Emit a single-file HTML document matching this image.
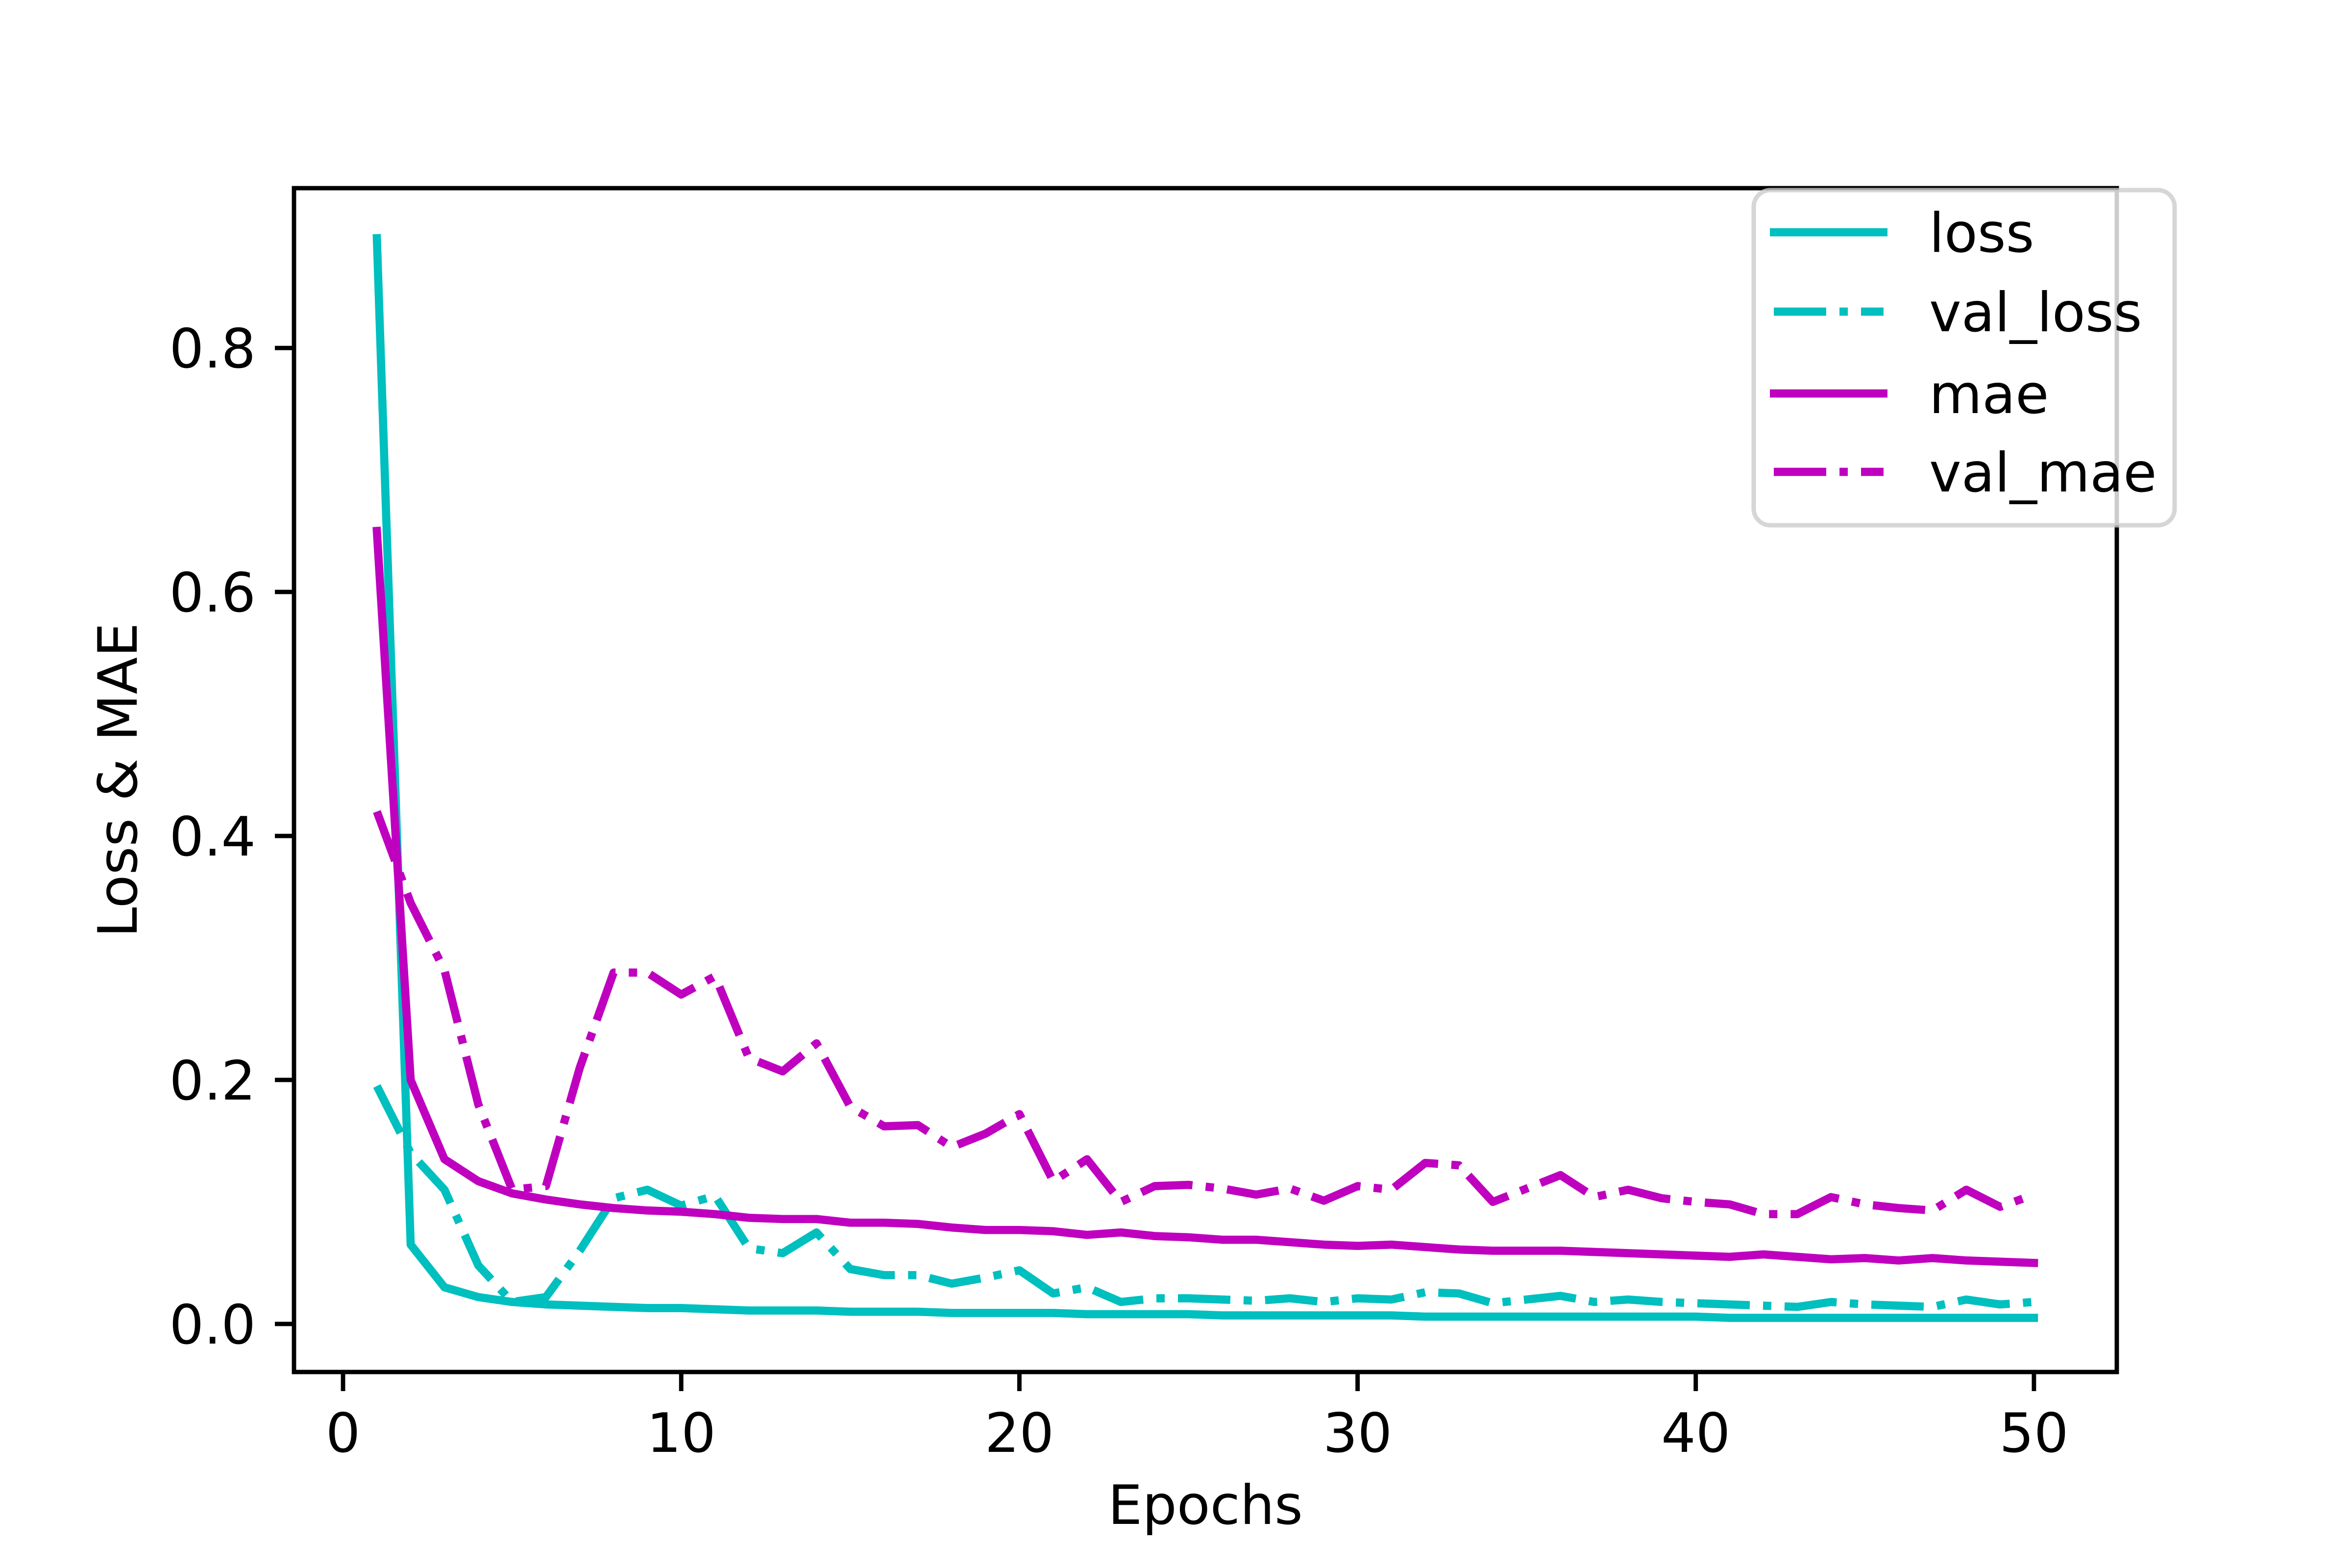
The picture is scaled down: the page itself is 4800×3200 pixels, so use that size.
<!DOCTYPE html>
<html><head><meta charset="utf-8"><style>
html,body{margin:0;padding:0;background:#fff}
svg{display:block}
text{font-family:"DejaVu Sans","Liberation Sans",sans-serif;fill:#000}
</style></head><body>
<svg id="chart" width="4800" height="3200" viewBox="0 0 4800 3200" xmlns="http://www.w3.org/2000/svg">
<rect width="4800" height="3200" fill="#fff"/>
<g id="series"></g>
<g id="axes"></g>
<g id="legend"></g>
</svg>
<script>
const epochs = Array.from({length:50},(_,i)=>i+1);
const lossVals = [0.89,0.065,0.03,0.022,0.018,0.016,0.015,0.014,0.013,0.013,0.012,0.011,0.011,0.011,0.010,0.010,0.010,0.009,0.009,0.009,0.009,0.008,0.008,0.008,0.008,0.007,0.007,0.007,0.007,0.007,0.007,0.006,0.006,0.006,0.006,0.006,0.006,0.006,0.006,0.006,0.005,0.005,0.005,0.005,0.005,0.005,0.005,0.005,0.005,0.005];
const valLossVals = [0.195,0.14,0.11,0.048,0.018,0.022,0.06,0.103,0.11,0.097,0.105,0.062,0.058,0.075,0.045,0.04,0.04,0.033,0.038,0.044,0.025,0.03,0.018,0.021,0.021,0.02,0.019,0.021,0.018,0.021,0.02,0.026,0.025,0.017,0.02,0.023,0.018,0.02,0.018,0.017,0.016,0.015,0.014,0.018,0.016,0.015,0.014,0.02,0.016,0.018];
const maeVals = [0.65,0.2,0.135,0.117,0.107,0.102,0.098,0.095,0.093,0.092,0.09,0.087,0.086,0.086,0.083,0.083,0.082,0.079,0.077,0.077,0.076,0.073,0.075,0.072,0.071,0.069,0.069,0.067,0.065,0.064,0.065,0.063,0.061,0.06,0.06,0.06,0.059,0.058,0.057,0.056,0.055,0.057,0.055,0.053,0.054,0.052,0.054,0.052,0.051,0.05];
const valMaeVals = [0.42,0.345,0.29,0.18,0.11,0.113,0.21,0.288,0.288,0.27,0.285,0.218,0.207,0.23,0.178,0.162,0.163,0.145,0.156,0.172,0.117,0.135,0.1,0.113,0.114,0.111,0.106,0.111,0.101,0.113,0.11,0.132,0.13,0.1,0.111,0.122,0.104,0.11,0.103,0.1,0.098,0.09,0.09,0.104,0.098,0.095,0.093,0.11,0.096,0.106];
const xTicks = [0,10,20,30,40,50];
const yTicks = [0.0,0.2,0.4,0.6,0.8];
const seriesNames = ["loss","val_loss","mae","val_mae"];

const NS="http://www.w3.org/2000/svg";
const L=600,R=4320,T=384,B=2800;
const xMin=-1.45,xMax=52.45,yMin=-0.0394,yMax=0.931;
const sx=v=>L+(v-xMin)/(xMax-xMin)*(R-L);
const sy=v=>B-(v-yMin)/(yMax-yMin)*(B-T);
function mk(tag,attrs,parent){const e=document.createElementNS(NS,tag);for(const k in attrs)e.setAttribute(k,attrs[k]);parent.appendChild(e);return e;}
const C="#00bfbf",M="#bf00bf",DASH="107,27,17,27";
const series=[
 {vals:lossVals,color:C,dash:null,name:"loss-line"},
 {vals:valLossVals,color:C,dash:DASH,name:"val-loss-line"},
 {vals:maeVals,color:M,dash:null,name:"mae-line"},
 {vals:valMaeVals,color:M,dash:DASH,name:"val-mae-line"}];
const sg=document.getElementById("series");
const clip=mk("clipPath",{id:"plotclip"},sg);mk("rect",{x:L,y:T,width:R-L,height:B-T},clip);
series.forEach(s=>{
  const pts=epochs.map((e,i)=>sx(e).toFixed(1)+","+sy(s.vals[i]).toFixed(1)).join(" ");
  const a={points:pts,fill:"none",stroke:s.color,"stroke-width":16.7,"stroke-linejoin":"round","stroke-linecap":s.dash?"butt":"square","clip-path":"url(#plotclip)"};
  if(s.dash)a["stroke-dasharray"]=s.dash;
  const p=mk("polyline",a,sg);
  
  
});
const ag=document.getElementById("axes");
const frame=mk("rect",{x:L,y:T,width:R-L,height:B-T,fill:"none",stroke:"#000","stroke-width":8.9},ag);


xTicks.forEach(t=>{
  const x=sx(t);
  const tk=mk("line",{x1:x,x2:x,y1:B,y2:B+39,stroke:"#000","stroke-width":8.9},ag);
  
  
  const tx=mk("text",{x:x,y:2963,"font-size":111,"text-anchor":"middle"},ag);tx.textContent=String(t);
  
  
});
yTicks.forEach(t=>{
  const y=sy(t);
  const tk=mk("line",{x1:L-39,x2:L,y1:y,y2:y,stroke:"#000","stroke-width":8.9},ag);
  
  
  const tx=mk("text",{x:522,y:y+40,"font-size":111,"text-anchor":"end"},ag);tx.textContent=t.toFixed(1);
  
  
});
const xl=mk("text",{x:(L+R)/2,y:3110,"font-size":111,"text-anchor":"middle"},ag);xl.textContent="Epochs";


const yl=mk("text",{x:0,y:0,"font-size":111,"text-anchor":"middle",transform:"translate(279,"+((T+B)/2)+") rotate(-90)"},ag);yl.textContent="Loss & MAE";


const lg=document.getElementById("legend");
const box=mk("rect",{x:3579,y:388,width:859,height:684,rx:34,ry:34,fill:"#fff","fill-opacity":0.8,stroke:"#cccccc","stroke-opacity":0.8,"stroke-width":9},lg);


const rowsY=[474,636,803,963];
series.forEach((s,i)=>{
  const a={x1:3612,x2:3852,y1:rowsY[i],y2:rowsY[i],stroke:s.color,"stroke-width":16.7};
  if(s.dash){a["stroke-dasharray"]=DASH;a.x1=3620;a.x2=3844;}
  const ln=mk("line",a,lg);
  
  
  const tx=mk("text",{x:3937,y:rowsY[i]+40,"font-size":111},lg);tx.textContent=seriesNames[i];
  
  
});
</script>
</body></html>
